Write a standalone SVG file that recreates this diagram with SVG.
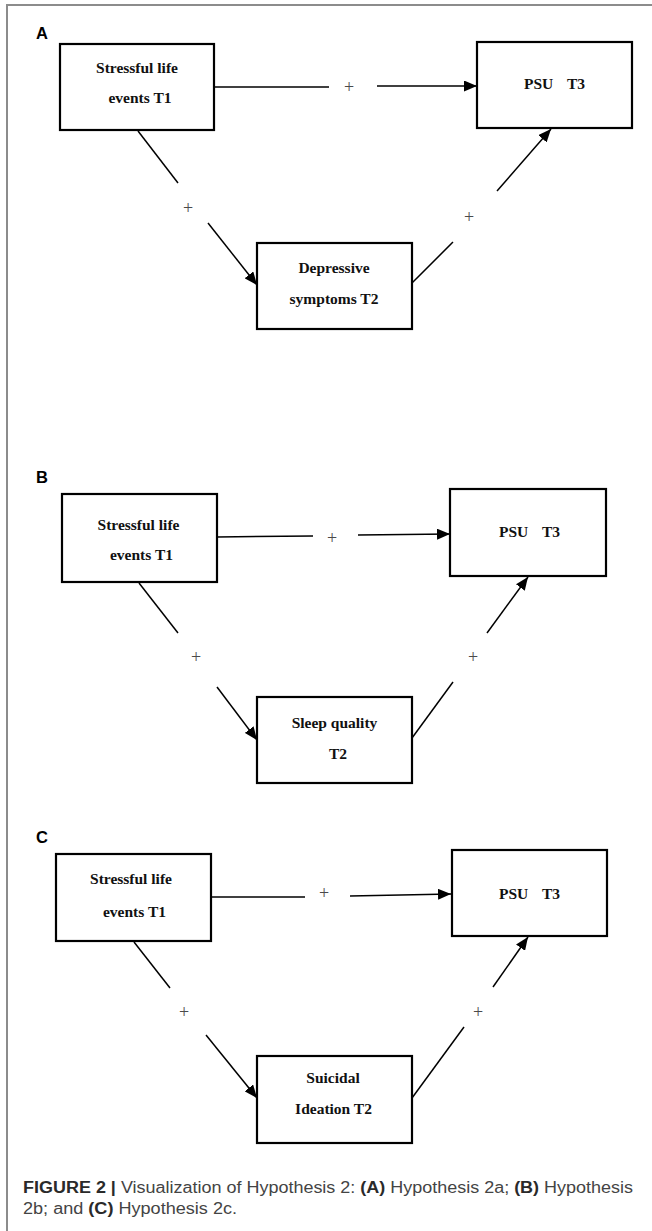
<svg xmlns="http://www.w3.org/2000/svg" width="652" height="1231" viewBox="0 0 652 1231">
<style>
.frame{stroke:#8c8c8c;stroke-width:2;fill:none}
.box{fill:#fff;stroke:#000;stroke-width:2.2}
.nt{font-family:"Liberation Serif","Times New Roman",serif;font-weight:bold;font-size:15.5px;fill:#111;text-anchor:middle}
.nts{font-family:"Liberation Serif","Times New Roman",serif;font-weight:bold;font-size:15.5px;fill:#111}
.plus{font-family:"Liberation Serif","Times New Roman",serif;font-size:18px;fill:#4a4a4a;text-anchor:middle;dominant-baseline:central}
.lbl{font-family:"Liberation Sans",Arial,sans-serif;font-weight:bold;font-size:16.5px;fill:#000}
.edge{stroke:#000;stroke-width:1.5;fill:none}
.cap{font-family:"Liberation Sans",Arial,sans-serif;font-size:16px;fill:#444}
.b{font-weight:bold;fill:#2a2a2a}
</style>
<defs>
<marker id="arr" markerUnits="userSpaceOnUse" markerWidth="13" markerHeight="11" refX="13" refY="5.5" orient="auto">
<path d="M0,0 L13,5.5 L0,11 z" fill="#000"/>
</marker>
</defs>
<rect width="652" height="1231" fill="#fff"/>
<path class="frame" d="M7,1231 L7,5 L652,5"/>

<text class="lbl" x="36" y="39">A</text>
<text class="lbl" x="36" y="483">B</text>
<text class="lbl" x="36" y="843">C</text>

<g id="connectors">
<!-- Panel A -->
<line class="edge" x1="214" y1="87" x2="329" y2="87"/>
<line class="edge" x1="377" y1="86" x2="477" y2="86" marker-end="url(#arr)"/>
<line class="edge" x1="138" y1="131" x2="178" y2="183"/>
<line class="edge" x1="208" y1="223" x2="257" y2="285" marker-end="url(#arr)"/>
<line class="edge" x1="412" y1="283" x2="453" y2="242"/>
<line class="edge" x1="497" y1="191" x2="551" y2="129" marker-end="url(#arr)"/>
<text class="plus" x="349" y="87">+</text>
<text class="plus" x="188" y="208">+</text>
<text class="plus" x="469" y="217">+</text>
<!-- Panel B -->
<line class="edge" x1="217" y1="537" x2="313" y2="536"/>
<line class="edge" x1="358" y1="535" x2="450" y2="534" marker-end="url(#arr)"/>
<line class="edge" x1="139" y1="583" x2="178" y2="633"/>
<line class="edge" x1="217" y1="687" x2="257" y2="740" marker-end="url(#arr)"/>
<line class="edge" x1="412" y1="738" x2="453" y2="682"/>
<line class="edge" x1="487" y1="633" x2="528" y2="577" marker-end="url(#arr)"/>
<text class="plus" x="332" y="538">+</text>
<text class="plus" x="196" y="657">+</text>
<text class="plus" x="473" y="657">+</text>
<!-- Panel C -->
<line class="edge" x1="211" y1="897" x2="305" y2="897"/>
<line class="edge" x1="350" y1="896" x2="451" y2="894" marker-end="url(#arr)"/>
<line class="edge" x1="134" y1="942" x2="170" y2="988"/>
<line class="edge" x1="206" y1="1035" x2="257" y2="1098" marker-end="url(#arr)"/>
<line class="edge" x1="412" y1="1098" x2="464" y2="1027"/>
<line class="edge" x1="493" y1="987" x2="528" y2="937" marker-end="url(#arr)"/>
<text class="plus" x="324" y="893">+</text>
<text class="plus" x="184" y="1012">+</text>
<text class="plus" x="478" y="1012">+</text>
</g>

<!-- Panel A nodes -->
<g id="a-stress">
<rect class="box" x="60" y="44" width="154" height="86"/>
<text class="nt" x="137" y="73">Stressful life</text>
<text class="nt" x="140" y="103">events T1</text>
</g>
<g id="a-psu">
<rect class="box" x="477" y="42" width="155" height="86"/>
<text class="nts" x="524" y="89">PSU<tspan x="567">T3</tspan></text>
</g>
<g id="a-dep">
<rect class="box" x="257" y="243" width="155" height="86"/>
<text class="nt" x="334" y="273">Depressive</text>
<text class="nt" x="334" y="304">symptoms T2</text>
</g>

<!-- Panel B nodes -->
<g id="b-stress">
<rect class="box" x="62" y="494" width="155" height="88"/>
<text class="nt" x="138.5" y="530">Stressful life</text>
<text class="nt" x="141.5" y="560">events T1</text>
</g>
<g id="b-psu">
<rect class="box" x="450" y="489" width="156" height="87"/>
<text class="nts" x="499" y="537">PSU<tspan x="542">T3</tspan></text>
</g>
<g id="b-sleep">
<rect class="box" x="257" y="697" width="155" height="86"/>
<text class="nt" x="334.5" y="728">Sleep quality</text>
<text class="nt" x="338" y="759">T2</text>
</g>

<!-- Panel C nodes -->
<g id="c-stress">
<rect class="box" x="56" y="854" width="155" height="87"/>
<text class="nt" x="131" y="884">Stressful life</text>
<text class="nt" x="134.5" y="917">events T1</text>
</g>
<g id="c-psu">
<rect class="box" x="452" y="850" width="155" height="86"/>
<text class="nts" x="499" y="899">PSU<tspan x="542">T3</tspan></text>
</g>
<g id="c-sui">
<rect class="box" x="257" y="1056" width="155" height="87"/>
<text class="nt" x="333" y="1083">Suicidal</text>
<text class="nt" x="333.5" y="1114">Ideation T2</text>
</g>

<g id="caption">
<text class="cap" x="23" y="1193" textLength="610" lengthAdjust="spacingAndGlyphs"><tspan class="b">FIGURE 2 |</tspan> Visualization of Hypothesis 2: <tspan class="b">(A)</tspan> Hypothesis 2a; <tspan class="b">(B)</tspan> Hypothesis</text>
<text class="cap" x="23" y="1214" textLength="214" lengthAdjust="spacingAndGlyphs">2b; and <tspan class="b">(C)</tspan> Hypothesis 2c.</text>
</g>
</svg>
